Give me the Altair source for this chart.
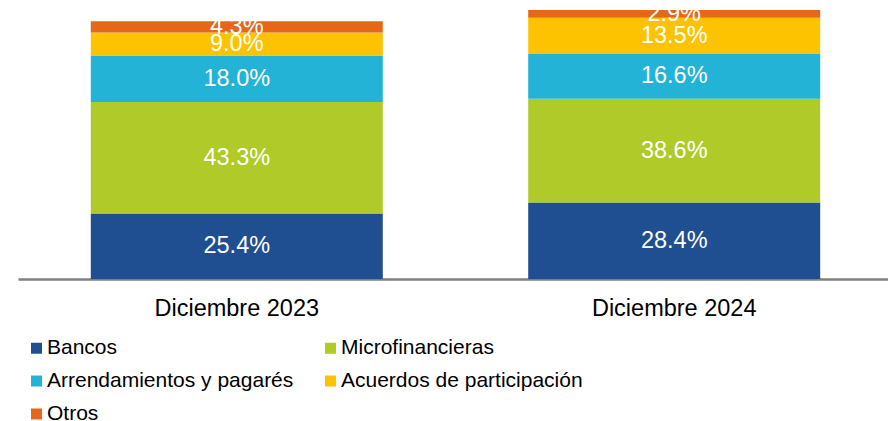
import altair as alt
import pandas as pd

periods = ["Diciembre 2023", "Diciembre 2024"]
categories = ["Bancos", "Microfinancieras", "Arrendamientos y pagarés",
              "Acuerdos de participación", "Otros"]
colors = ["#1F4F90", "#AFCA29", "#22B3D6", "#FDC300", "#E5681A"]
shares_2023 = [25.4, 43.3, 18.0, 9.0, 4.3]
shares_2024 = [28.4, 38.6, 16.6, 13.5, 2.9]
# relative size of each period's bar (Dec 2023 = 100)
totals = [100.0, 104.4]

rows = []
for p, shares, tot in zip(periods, [shares_2023, shares_2024], totals):
    cum = 0.0
    for i, (c, s) in enumerate(zip(categories, shares)):
        amt = s * tot / 100.0
        rows.append({"period": p, "cat": c, "idx": i, "share": s,
                     "amount": amt, "mid": cum + amt / 2,
                     "label": f"{s:.1f}%"})
        cum += amt
df = pd.DataFrame(rows)

FONT = "Liberation Sans"

xscale = alt.Scale(paddingInner=0.333, paddingOuter=0.1667, range=[0, 875])
x = alt.X("period:N", sort=periods, title=None, scale=xscale,
          axis=alt.Axis(labelAngle=0, labelFontSize=23.5, labelFont=FONT,
                        labelColor="#000000", ticks=False, labelPadding=17,
                        domainColor="#808080", domainWidth=2.5, grid=False))
yscale = alt.Scale(domain=[0, 105.16], nice=False)

bars = alt.Chart(df).mark_bar(size=292).encode(
    x=x,
    y=alt.Y("amount:Q", stack="zero", scale=yscale, axis=None),
    color=alt.Color("cat:N", sort=categories,
                    scale=alt.Scale(domain=categories, range=colors),
                    legend=alt.Legend(title=None, orient="none", legendX=8,
                                      legendY=329.5, columns=2, columnPadding=26,
                                      direction="horizontal",
                                      rowPadding=11, symbolType="square",
                                      symbolSize=121, symbolStrokeWidth=0,
                                      labelFontSize=21, labelFont=FONT,
                                      labelColor="#000000", labelOffset=0,
                                      padding=0, labelLimit=400)),
    order=alt.Order("idx:Q"),
)

labels = alt.Chart(df).mark_text(color="white", fontSize=23.5, font=FONT,
                                 baseline="middle", align="center").encode(
    x=alt.X("period:N", sort=periods, scale=xscale),
    y=alt.Y("mid:Q", scale=yscale),
    text="label:N",
)

chart = (bars + labels).properties(
    width=870, height=271,
    padding={"left": 10, "top": 0, "right": 0, "bottom": 142},
    autosize=alt.AutoSizeParams(type="none"),
).configure_view(stroke=None)

chart.save("out.html", embed_options={"renderer": "svg", "actions": False})
